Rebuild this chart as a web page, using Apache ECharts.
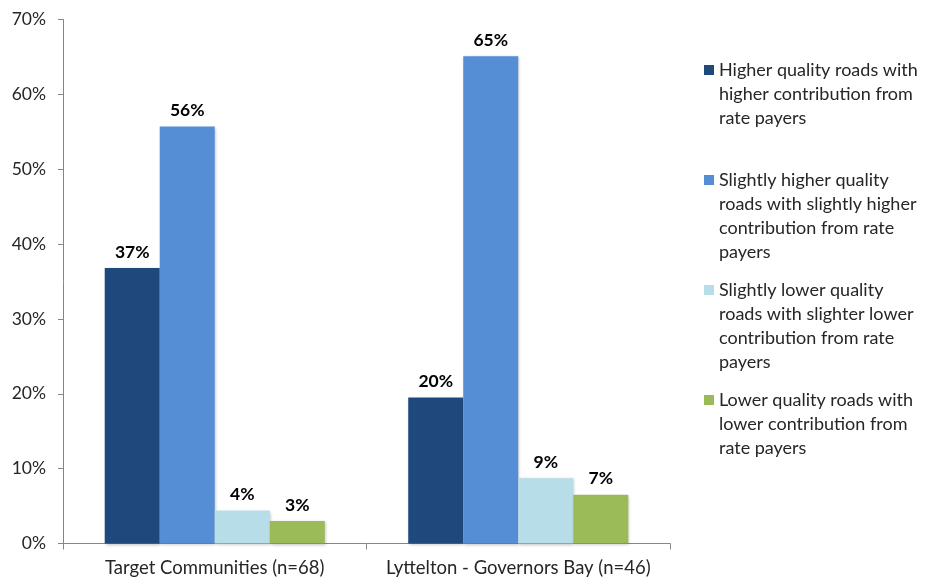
<!DOCTYPE html>
<html>
<head>
<meta charset="utf-8">
<script src="https://cdn.jsdelivr.net/npm/echarts@6/dist/echarts.min.js"></script>
<style>html,body{margin:0;padding:0;background:#fff;}#c{width:928px;height:582px;}</style>
</head>
<body>
<div id="c"></div>
<script>
const categories = ['Target Communities (n=68)', 'Lyttelton - Governors Bay (n=46)'];
const seriesNames = [
  'Higher quality roads with higher contribution from rate payers',
  'Slightly higher quality roads with slightly higher contribution from rate payers',
  'Slightly lower quality roads with slighter lower contribution from rate payers',
  'Lower quality roads with lower contribution from rate payers'
];
const legendLines = [
  ['Higher quality roads with', 'higher contribution from', 'rate payers', ' '],
  ['Slightly higher quality', 'roads with slightly higher', 'contribution from rate', 'payers'],
  ['Slightly lower quality', 'roads with slighter lower', 'contribution from rate', 'payers'],
  ['Lower quality roads with', 'lower contribution from', 'rate payers', ' ']
];
const higherValues = [36.8, 19.5];
const slightlyHigherValues = [55.7, 65.1];
const slightlyLowerValues = [4.4, 8.7];
const lowerValues = [3.0, 6.5];
const higherLabels = ['37%', '20%'];
const slightlyHigherLabels = ['56%', '65%'];
const slightlyLowerLabels = ['4%', '9%'];
const lowerLabels = ['3%', '7%'];
const yTickLabels = ['0%', '10%', '20%', '30%', '40%', '50%', '60%', '70%'];
const colors = ['#1F497D', '#558ED5', '#B7DEE8', '#9BBB59'];

const allValues = [higherValues, slightlyHigherValues, slightlyLowerValues, lowerValues];
const allLabels = [higherLabels, slightlyHigherLabels, slightlyLowerLabels, lowerLabels];
const FONT = 'Lato, "Open Sans", sans-serif';

const chart = echarts.init(document.getElementById('c'));
chart.setOption({
  animation: false,
  backgroundColor: '#fff',
  grid: { left: 63, right: 258, top: 19.5, bottom: 38.5, containLabel: false },
  legend: {
    orient: 'vertical',
    left: 704,
    top: 58,
    padding: 0,
    itemWidth: 10,
    itemHeight: 96,
    itemGap: 14,
    icon: 'path://M0,0L0,0M0,96L0,96M0,7L10,7L10,17L0,17Z',
    data: seriesNames,
    formatter: function (name) { return legendLines[seriesNames.indexOf(name)].join('\n'); },
    textStyle: { fontFamily: FONT, fontSize: 18, color: '#262626', lineHeight: 24 }
  },
  xAxis: {
    type: 'category',
    data: categories,
    axisLine: { lineStyle: { color: '#868686', width: 1 } },
    axisTick: { show: true, length: 6, alignWithLabel: false, lineStyle: { color: '#868686' } },
    axisLabel: { interval: 0, hideOverlap: false, fontFamily: FONT, fontSize: 18.5, color: '#262626', margin: 15 }
  },
  yAxis: {
    type: 'value',
    min: 0, max: 70, interval: 10,
    axisLine: { show: true, lineStyle: { color: '#868686', width: 1 } },
    axisTick: { show: true, length: 5, lineStyle: { color: '#868686' } },
    splitLine: { show: false },
    axisLabel: {
      fontFamily: FONT, fontSize: 17.5, color: '#262626', margin: 17,
      formatter: function (v) { return yTickLabels[Math.round(v / 10)]; }
    }
  },
  series: seriesNames.map(function (n, i) {
    return {
      name: n,
      type: 'bar',
      data: allValues[i],
      barGap: '0%',
      barCategoryGap: '27.5%',
      itemStyle: { color: colors[i], shadowColor: 'rgba(0,0,0,0.25)', shadowBlur: 3, shadowOffsetX: 1, shadowOffsetY: 1 },
      label: {
        show: true,
        position: 'top',
        distance: 7,
        fontFamily: FONT,
        fontSize: 17.5,
        fontWeight: 'bold',
        color: '#000',
        formatter: function (p) { return allLabels[i][p.dataIndex]; }
      }
    };
  })
});
</script>
</body>
</html>
